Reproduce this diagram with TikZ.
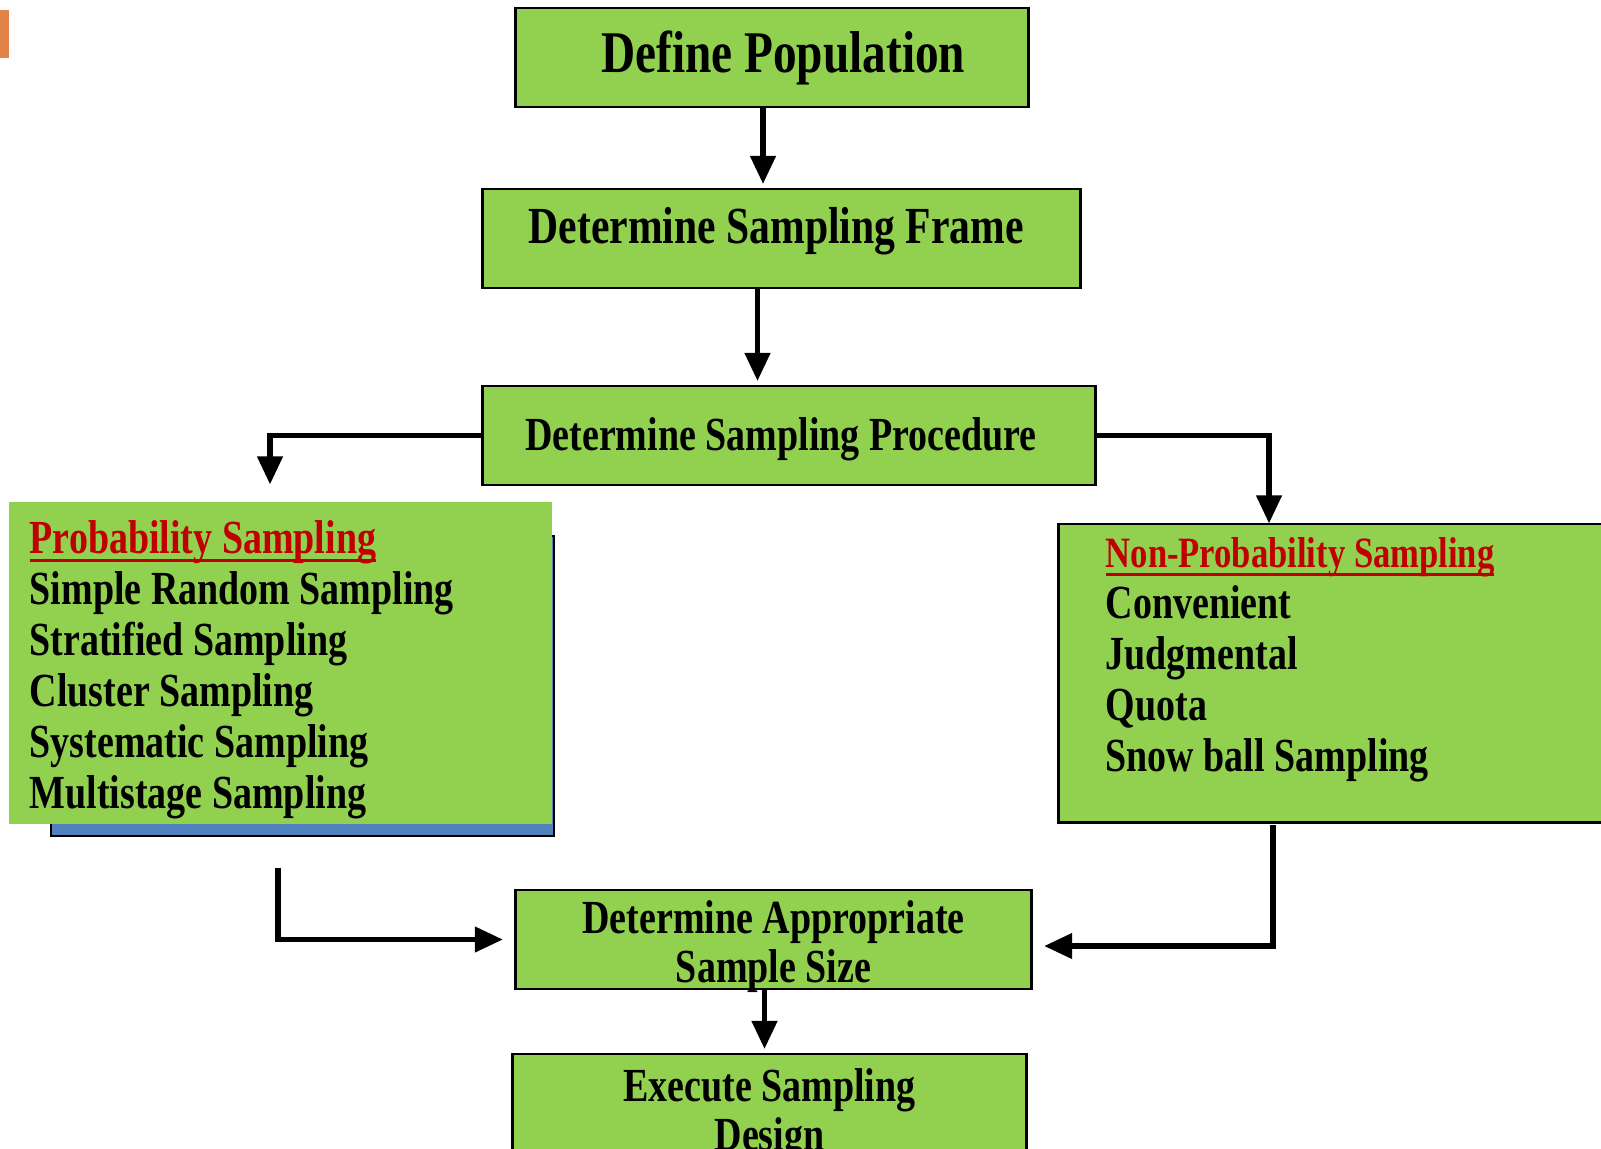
\documentclass[tikz,border=0pt]{standalone}
\usepackage{fontspec}
\setmainfont[FakeStretch=0.8]{Liberation Serif}
\usepackage{xcolor}
\usetikzlibrary{arrows.meta}
\usetikzlibrary{shapes}

\definecolor{kastengruen}{HTML}{92D050}
\definecolor{kopfrot}{HTML}{C00000}
\definecolor{schattenblau}{HTML}{4F81BD}
\definecolor{randorange}{HTML}{E0824A}

\newlength\ulbreite
\newcommand{\rotkopf}[1]{\settowidth{\ulbreite}{#1}\textcolor{kopfrot}{\rlap{\rule[-2.3pt]{\ulbreite}{0.9pt}}#1}}

\tikzset{
    kasten/.style={draw=black, line width=0.8pt, fill=kastengruen, align=center, inner sep=0pt,
        font=\bfseries\fontsize{13.5}{14}\selectfont},
    liste/.style={align=left, inner sep=0pt, font=\bfseries\fontsize{13.5}{14.5}\selectfont},
    pfeil/.style={->, line width=1.6pt, shorten >=1pt},
    >={Triangle[length=8pt,width=7pt]}
}

\begin{document}
\begin{tikzpicture}[x=0.01cm, y=-0.01cm]
        \useasboundingbox (0,0) rectangle (1601,1148);
        \clip (0,0) rectangle (1601,1148);
        % Rand
        \fill[randorange] (0,10) rectangle (9,58);
        % Kaesten
        \node[kasten, minimum width=5.12cm, minimum height=0.99cm, font=\bfseries\fontsize{16.8}{18}\selectfont] (def) at (772,57.5) {\hspace*{6.4pt}Define Population};
        \node[kasten, minimum width=5.97cm, minimum height=0.99cm, font=\bfseries\fontsize{14.8}{16}\selectfont, text depth=0.72em] (frame) at (781.5,238.5) {Determine Sampling Frame\hspace*{3pt}};
        \node[kasten, minimum width=6.12cm, minimum height=0.99cm, text height=1.15em] (proc) at (789,435.5) {Determine Sampling Procedure\hspace*{4.6pt}};
        % Wahrscheinlichkeit
        \draw[line width=0.8pt, fill=schattenblau] (51,536) rectangle (554,836);
        \node[kasten, draw=none, minimum width=5.43cm, minimum height=3.22cm] (prob) at (280.5,663) {};
        \node[liste, anchor=north west] (problist) at (29,520) {\rotkopf{Probability Sampling}\\
            Simple Random Sampling\\ Stratified Sampling\\ Cluster Sampling\\ Systematic Sampling\\ Multistage Sampling};
        % Nicht-Wahrscheinlichkeit
        \node[kasten, minimum width=5.66cm, minimum height=2.98cm] (nonprob) at (1342,673) {};
        \node[liste, anchor=north west] (nonproblist) at (1105,537) {{\fontsize{12.3}{14.5}\selectfont\rotkopf{Non-Probability Sampling}}\\
            Convenient\\ Judgmental\\ Quota\\ Snow ball Sampling};
        \node[kasten, minimum width=5.15cm, minimum height=0.99cm, inner ysep=-3pt] (appr) at (773.5,939.5) {\rule{0pt}{13.3pt}Determine Appropriate\\ Sample Size};
        \node[kasten, minimum width=5.13cm, minimum height=1.21cm] (exec) at (769.5,1114.5) {Execute Sampling\\ Design};
        % Pfeile
        \coordinate (links) at (270,488);
        \coordinate (rechts) at (1269,527);
        \coordinate (probaus) at (278,868);
        \coordinate (nonaus) at (1273,825);
        \draw[pfeil] ([xshift=-0.09cm]def.south) -- ([xshift=-0.09cm]def.south |- frame.north);
        \draw[pfeil] ([xshift=-0.24cm]frame.south) -- ([xshift=-0.24cm]frame.south |- proc.north);
        \draw[pfeil] (proc.west) -| (links);
        \draw[pfeil] (proc.east) -| (rechts);
        \draw[pfeil] (probaus) |- ([xshift=-0.08cm]appr.west);
        \draw[pfeil] (nonaus) |- ([xshift=0.08cm, yshift=-0.065cm]appr.east);
        \draw[pfeil] ([xshift=-0.09cm]appr.south) -- ([xshift=-0.09cm]appr.south |- exec.north);
\end{tikzpicture}
\end{document}
